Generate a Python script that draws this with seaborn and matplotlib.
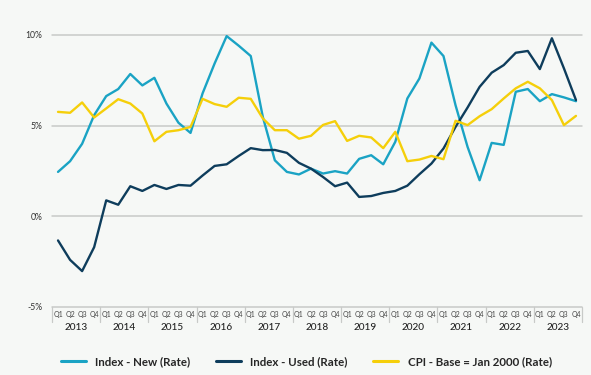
import numpy as np
import pandas as pd
import matplotlib
matplotlib.use("Agg")
import matplotlib.pyplot as plt
import seaborn as sns
from matplotlib.lines import Line2D

years = [str(y) for y in range(2013, 2024)]
quarters = ["Q1", "Q2", "Q3", "Q4"]

index_new = [2.45, 3.04, 4.0, 5.58, 6.63, 7.02, 7.85, 7.22, 7.64, 6.22, 5.16, 4.6,
             6.78, 8.43, 9.94, 9.41, 8.84, 5.49, 3.09, 2.45, 2.31, 2.63, 2.36, 2.49,
             2.36, 3.17, 3.37, 2.87, 4.11, 6.5, 7.6, 9.58, 8.84, 6.13, 3.83, 1.99,
             4.05, 3.94, 6.87, 7.02, 6.35, 6.74, 6.56, 6.35]
index_used = [-1.33, -2.4, -3.02, -1.7, 0.88, 0.64, 1.66, 1.4, 1.73, 1.51, 1.73, 1.69,
              2.25, 2.78, 2.87, 3.33, 3.76, 3.65, 3.66, 3.5, 2.95, 2.63, 2.17, 1.66,
              1.86, 1.07, 1.12, 1.29, 1.4, 1.69, 2.32, 2.91, 3.74, 4.93, 6.0, 7.14,
              7.92, 8.34, 9.02, 9.12, 8.12, 9.82, 8.16, 6.41]
cpi = [5.76, 5.71, 6.28, 5.45, 5.95, 6.46, 6.22, 5.67, 4.14, 4.66, 4.75, 4.93,
       6.48, 6.19, 6.04, 6.54, 6.48, 5.4, 4.75, 4.75, 4.28, 4.44, 5.04, 5.25,
       4.16, 4.44, 4.35, 3.76, 4.66, 3.04, 3.13, 3.33, 3.15, 5.27, 5.03, 5.52,
       5.91, 6.5, 7.06, 7.42, 7.06, 6.41, 5.03, 5.54]

series_names = ["Index - New (Rate)", "Index - Used (Rate)", "CPI - Base = Jan 2000 (Rate)"]
colors = ["#1AA3C4", "#0E3D5C", "#F5CF0A"]
y_ticks = [-5, 0, 5, 10]
y_tick_labels = ["-5%", "0%", "5%", "10%"]

n = len(index_new)
pos = np.arange(n)
df = pd.concat([
    pd.DataFrame({"pos": pos, "value": index_new, "series": series_names[0]}),
    pd.DataFrame({"pos": pos, "value": index_used, "series": series_names[1]}),
    pd.DataFrame({"pos": pos, "value": cpi, "series": series_names[2]}),
])

bg = "#F6F8F6"
sns.set_theme(style="white")
plt.rcParams["font.family"] = ["Lato", "DejaVu Sans"]

fig = plt.figure(figsize=(5.91, 3.75), dpi=100, facecolor=bg)
ax = fig.add_axes([52 / 591, (375 - 307) / 375, (582 - 52) / 591, (307 - 35) / 375])
ax.set_facecolor(bg)

for yv in [0, 5, 10]:
    ax.axhline(yv, color="#C8CAC8", lw=1.1, zorder=0)

sns.lineplot(data=df, x="pos", y="value", hue="series", palette=dict(zip(series_names, colors)),
             hue_order=series_names, linewidth=1.7, ax=ax, legend=False, zorder=3)
for l in ax.lines:
    l.set_clip_on(False)

ax.set_xlim(-0.5, n - 0.5)
ax.set_ylim(-5, 10)
for s in ax.spines.values():
    s.set_visible(False)

ax.set_yticks(y_ticks)
ax.set_yticklabels(y_tick_labels, fontsize=6.2, color="#333333")
ax.tick_params(axis="y", length=0, pad=7)
ax.set_ylabel("")
ax.set_xlabel("")

ax.set_xticks(pos)
ax.set_xticklabels(quarters * len(years), fontsize=5.0, color="#444444")
ax.tick_params(axis="x", length=0, pad=3)

trans = ax.get_xaxis_transform()
ax_h = 307 - 35
ax.plot([-0.5, n - 0.5], [0, 0], transform=trans, color="#C8CAC8", lw=1.1, clip_on=False, zorder=1)
for k in range(len(years) + 1):
    xs = 4 * k - 0.5
    ax.plot([xs, xs], [0, -15 / ax_h], transform=trans, color="#C8CAC8", lw=0.9, clip_on=False)
for k, yr in enumerate(years):
    ax.text(4 * k + 1.5, -21 / ax_h, yr, transform=trans, ha="center", va="center",
            fontsize=7.2, color="#222222", fontweight="medium")

handles = [Line2D([0], [0], color=c, lw=2.2) for c in colors]
fig.legend(handles, series_names, loc="center", bbox_to_anchor=(0.518, 1 - 362 / 375), ncol=3,
           frameon=False, fontsize=8.3, handlelength=2.2, columnspacing=2.2, handletextpad=0.8,
           prop={"weight": "bold", "size": 8.3})

fig.savefig("out.png", dpi=100, facecolor=bg)
